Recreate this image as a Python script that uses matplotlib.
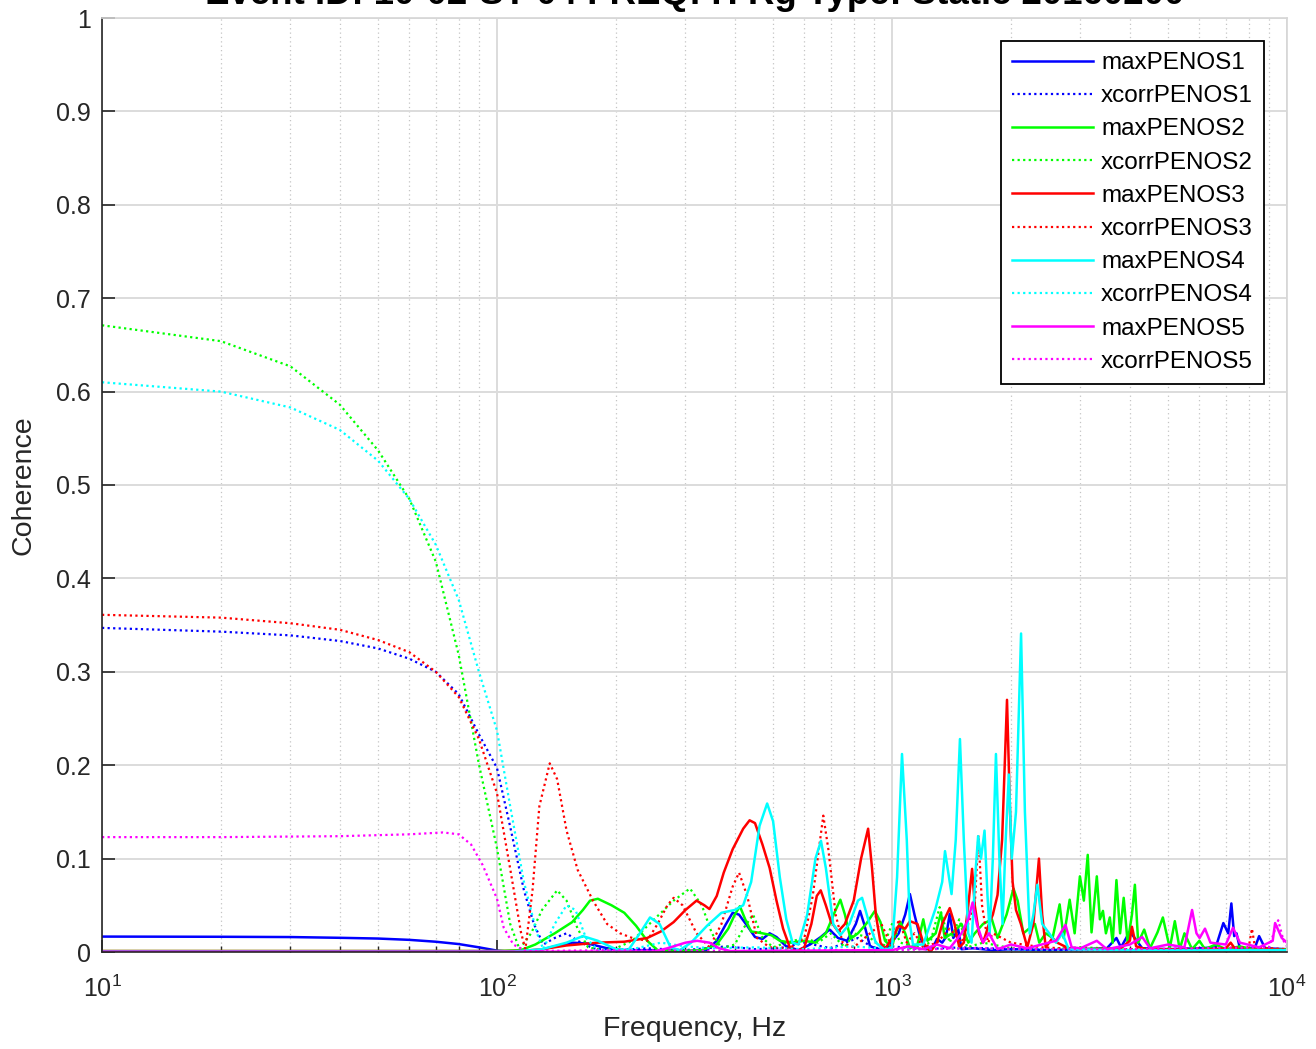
import matplotlib
matplotlib.use("Agg")
import matplotlib.pyplot as plt
from matplotlib.ticker import FixedLocator, LogLocator, NullFormatter, LogFormatterMathtext

plt.rcParams['font.family'] = ['Liberation Sans', 'DejaVu Sans']
plt.rcParams['mathtext.fontset'] = 'custom'
plt.rcParams['mathtext.rm'] = 'Liberation Sans'
plt.rcParams['mathtext.it'] = 'Liberation Sans'

title_text = "Event ID: 10-02-ST-04 FREQ: H Rg Type: Static 20160200"
x_label = "Frequency, Hz"
y_label = "Coherence"
y_ticks = [0, 0.1, 0.2, 0.3, 0.4, 0.5, 0.6, 0.7, 0.8, 0.9, 1]
y_tick_labels = ["0", "0.1", "0.2", "0.3", "0.4", "0.5", "0.6", "0.7", "0.8", "0.9", "1"]
x_ticks = [10, 100, 1000, 10000]

# ---------------- data (frequency Hz, coherence) ----------------
f_max1 = [10, 20, 30, 40, 50, 60, 70, 80, 90, 100, 110, 125, 140, 155, 170, 190, 210, 250, 300, 340,
          360, 380, 395, 410, 430, 450, 470, 490, 510, 540, 580, 620, 660, 695, 730, 770, 810, 830, 850,
          880, 930, 980, 1040, 1080, 1110, 1140, 1180, 1220, 1270, 1300, 1340, 1370, 1400, 1430, 1470,
          1500, 1600, 1800, 2000, 2500, 3000, 3500, 3700, 3800, 4000, 4300, 5000, 6000, 6600, 6900,
          7100, 7230, 7350, 7450, 7600, 7800, 8300, 8500, 8800, 10000]
v_max1 = [0.0165, 0.0163, 0.016, 0.0152, 0.0144, 0.013, 0.011, 0.0085, 0.005, 0.0015, 0.0, 0.001, 0.006,
          0.010, 0.009, 0.004, 0.002, 0.002, 0.001, 0.002, 0.012, 0.030, 0.042, 0.040, 0.028, 0.016,
          0.014, 0.020, 0.016, 0.006, 0.002, 0.008, 0.016, 0.024, 0.015, 0.012, 0.030, 0.044, 0.030,
          0.006, 0.003, 0.006, 0.020, 0.040, 0.062, 0.040, 0.015, 0.003, 0.005, 0.014, 0.010, 0.016,
          0.041, 0.015, 0.025, 0.003, 0.004, 0.002, 0.003, 0.002, 0.003, 0.004, 0.015, 0.005, 0.022,
          0.004, 0.003, 0.004, 0.005, 0.031, 0.020, 0.052, 0.017, 0.020, 0.004, 0.003, 0.005, 0.017,
          0.004, 0.003]

f_xc1 = [10, 20, 30, 40, 50, 60, 70, 80, 90, 100, 108, 117, 124, 131, 140, 150, 160, 175, 200, 240,
         300, 380, 450, 520, 600, 700, 820, 900, 1000, 1200, 1500, 2000, 3000, 5000, 7000, 10000]
v_xc1 = [0.347, 0.343, 0.339, 0.333, 0.325, 0.314, 0.300, 0.276, 0.233, 0.197, 0.134, 0.066, 0.030,
         0.008, 0.015, 0.020, 0.012, 0.004, 0.002, 0.004, 0.002, 0.006, 0.003, 0.004, 0.010, 0.004,
         0.015, 0.004, 0.006, 0.003, 0.005, 0.003, 0.002, 0.003, 0.004, 0.002]

f_max2 = [10, 50, 100, 115, 125, 140, 155, 165, 172, 180, 195, 210, 225, 240, 255, 290, 330, 360,
          385, 400, 412, 425, 440, 470, 495, 520, 555, 600, 640, 680, 720, 740, 760, 785, 820, 860,
          905, 935, 960, 1000, 1020, 1050, 1080, 1110, 1160, 1200, 1230, 1290, 1330, 1360, 1420, 1500,
          1560, 1620, 1700, 1790, 1850, 1950, 2030, 2080, 2150, 2300, 2360, 2450, 2550, 2657, 2720,
          2817, 2900, 2990, 3060, 3130, 3200, 3300, 3360, 3420, 3480, 3560, 3620, 3700, 3780, 3860,
          3950, 4050, 4120, 4200, 4350, 4500, 4700, 4850, 5050, 5200, 5350, 5500, 5750, 6000, 6200,
          6600, 7000, 7600, 8200, 9000, 10000]
v_max2 = [0.001, 0.001, 0.001, 0.002, 0.008, 0.020, 0.032, 0.045, 0.055, 0.057, 0.050, 0.042, 0.028,
          0.012, 0.002, 0.001, 0.002, 0.008, 0.025, 0.040, 0.049, 0.035, 0.022, 0.020, 0.018, 0.012,
          0.010, 0.012, 0.010, 0.020, 0.045, 0.056, 0.040, 0.014, 0.020, 0.030, 0.044, 0.032, 0.012,
          0.005, 0.020, 0.032, 0.020, 0.004, 0.008, 0.035, 0.012, 0.020, 0.042, 0.015, 0.020, 0.030,
          0.010, 0.020, 0.030, 0.035, 0.015, 0.040, 0.068, 0.055, 0.020, 0.030, 0.010, 0.020, 0.015,
          0.051, 0.015, 0.056, 0.020, 0.081, 0.055, 0.104, 0.021, 0.081, 0.035, 0.044, 0.020, 0.037,
          0.010, 0.077, 0.020, 0.058, 0.010, 0.040, 0.072, 0.010, 0.024, 0.004, 0.021, 0.037, 0.004,
          0.033, 0.003, 0.020, 0.003, 0.012, 0.003, 0.008, 0.003, 0.006, 0.003, 0.002, 0.003]

f_xc2 = [10, 20, 30, 40, 50, 60, 70, 80, 90, 100, 108, 114, 122, 130, 142, 150, 160, 170, 185, 200,
         220, 250, 280, 308, 330, 350, 370, 400, 420, 445, 470, 500, 540, 600, 650, 700, 760, 800, 880,
         950, 1000, 1050, 1150, 1250, 1320, 1400, 1480, 1550, 1700, 2000, 2500, 3000, 4000, 6000, 10000]
v_xc2 = [0.671, 0.654, 0.627, 0.586, 0.537, 0.485, 0.418, 0.318, 0.201, 0.111, 0.030, 0.003, 0.020,
         0.045, 0.066, 0.055, 0.025, 0.005, 0.002, 0.004, 0.012, 0.035, 0.055, 0.068, 0.050, 0.020,
         0.004, 0.008, 0.025, 0.040, 0.015, 0.005, 0.010, 0.015, 0.010, 0.020, 0.005, 0.020, 0.015,
         0.005, 0.030, 0.010, 0.005, 0.010, 0.048, 0.010, 0.035, 0.005, 0.010, 0.004, 0.003, 0.005,
         0.003, 0.002, 0.002]

f_max3 = [10, 50, 100, 115, 130, 150, 180, 210, 240, 260, 280, 300, 320, 335, 345, 360, 375, 395,
          420, 436, 450, 470, 490, 510, 530, 550, 570, 600, 625, 645, 660, 680, 700, 730, 760, 800,
          835, 870, 890, 910, 935, 960, 1000, 1040, 1080, 1110, 1160, 1200, 1250, 1300, 1340, 1400,
          1440, 1480, 1520, 1560, 1595, 1620, 1660, 1700, 1760, 1800, 1850, 1900, 1955, 1990, 2020,
          2060, 2120, 2200, 2280, 2355, 2400, 2450, 2550, 2620, 2800, 3200, 3800, 4000, 4050, 4150,
          4400, 5000, 6000, 7000, 7200, 7400, 8000, 9000, 10000]
v_max3 = [0.001, 0.001, 0.001, 0.001, 0.003, 0.007, 0.010, 0.011, 0.015, 0.022, 0.032, 0.045, 0.055,
          0.050, 0.046, 0.060, 0.085, 0.110, 0.132, 0.141, 0.138, 0.115, 0.090, 0.055, 0.025, 0.006,
          0.000, 0.005, 0.030, 0.060, 0.066, 0.050, 0.033, 0.022, 0.030, 0.055, 0.100, 0.132, 0.090,
          0.040, 0.010, 0.003, 0.015, 0.028, 0.025, 0.033, 0.030, 0.010, 0.000, 0.010, 0.030, 0.047,
          0.030, 0.005, 0.010, 0.050, 0.089, 0.050, 0.020, 0.010, 0.030, 0.040, 0.061, 0.120, 0.270,
          0.150, 0.075, 0.045, 0.030, 0.005, 0.030, 0.100, 0.040, 0.005, 0.015, 0.010, 0.004, 0.003,
          0.004, 0.012, 0.027, 0.006, 0.003, 0.003, 0.002, 0.004, 0.010, 0.003, 0.002, 0.003, 0.002]

f_xc3 = [10, 20, 30, 40, 50, 60, 70, 80, 90, 100, 108, 115, 118, 123, 128, 136, 142, 150, 160, 175,
         190, 205, 220, 240, 255, 270, 280, 295, 320, 345, 370, 395, 410, 430, 455, 490, 550, 600, 630,
         660, 670, 690, 720, 750, 800, 880, 940, 1000, 1040, 1090, 1140, 1200, 1300, 1400, 1500, 1620,
         1655, 1690, 1750, 1800, 2000, 2400, 3000, 5000, 8000, 8150, 8300, 10000]
v_xc3 = [0.361, 0.358, 0.352, 0.345, 0.334, 0.321, 0.300, 0.273, 0.228, 0.170, 0.089, 0.021, 0.003,
         0.066, 0.156, 0.202, 0.185, 0.130, 0.088, 0.055, 0.030, 0.020, 0.015, 0.012, 0.030, 0.050,
         0.058, 0.050, 0.020, 0.005, 0.030, 0.070, 0.085, 0.060, 0.015, 0.005, 0.004, 0.015, 0.060,
         0.125, 0.146, 0.110, 0.040, 0.010, 0.005, 0.020, 0.030, 0.005, 0.035, 0.010, 0.020, 0.005,
         0.010, 0.025, 0.010, 0.050, 0.125, 0.050, 0.010, 0.020, 0.010, 0.005, 0.003, 0.003, 0.005,
         0.025, 0.005, 0.003]

f_max4 = [10, 50, 110, 130, 150, 165, 180, 200, 215, 230, 244, 258, 275, 290, 310, 340, 370, 400,
          420, 440, 462, 483, 500, 520, 540, 560, 580, 610, 640, 661, 680, 710, 740, 780, 820, 840,
          870, 910, 960, 1000, 1030, 1060, 1090, 1110, 1130, 1200, 1250, 1290, 1340, 1362, 1415, 1450,
          1486, 1520, 1560, 1590, 1630, 1652, 1680, 1715, 1745, 1767, 1800, 1833, 1870, 1905, 1940,
          1976, 2010, 2060, 2122, 2170, 2231, 2280, 2333, 2400, 2500, 2600, 2700, 2800, 4000, 10000]
v_max4 = [0.0005, 0.0005, 0.0005, 0.003, 0.010, 0.017, 0.012, 0.003, 0.002, 0.020, 0.037, 0.030,
          0.005, 0.002, 0.010, 0.028, 0.042, 0.045, 0.050, 0.075, 0.135, 0.159, 0.140, 0.080, 0.035,
          0.010, 0.008, 0.040, 0.100, 0.119, 0.090, 0.030, 0.018, 0.030, 0.055, 0.058, 0.035, 0.010,
          0.002, 0.005, 0.080, 0.212, 0.120, 0.030, 0.008, 0.008, 0.030, 0.047, 0.075, 0.108, 0.062,
          0.120, 0.228, 0.120, 0.020, 0.010, 0.090, 0.124, 0.100, 0.130, 0.060, 0.020, 0.100, 0.212,
          0.100, 0.030, 0.120, 0.190, 0.100, 0.150, 0.341, 0.150, 0.020, 0.040, 0.072, 0.030, 0.020,
          0.010, 0.020, 0.003, 0.002, 0.002]

f_xc4 = [10, 20, 30, 40, 50, 60, 70, 80, 90, 100, 108, 117, 126, 131, 140, 150, 158, 168, 180, 220,
         260, 300, 350, 450, 600, 800, 1000, 1500, 2000, 3000, 5000, 10000]
v_xc4 = [0.610, 0.600, 0.583, 0.559, 0.526, 0.485, 0.436, 0.377, 0.300, 0.237, 0.156, 0.075, 0.021,
         0.003, 0.030, 0.050, 0.045, 0.015, 0.002, 0.003, 0.010, 0.006, 0.004, 0.005, 0.003, 0.006,
         0.003, 0.004, 0.003, 0.002, 0.002, 0.002]

f_max5 = [10, 100, 250, 270, 300, 321, 345, 365, 390, 1000, 1100, 1200, 1300, 1400, 1500, 1560, 1600,
          1640, 1700, 1760, 1850, 2000, 2200, 2600, 2750, 2850, 3000, 3300, 3500, 4000, 4300, 4500,
          5000, 5500, 5750, 5900, 6009, 6200, 6400, 7000, 7300, 7600, 8500, 9200, 9330, 9700, 10000]
v_max5 = [0.0003, 0.0003, 0.0005, 0.004, 0.010, 0.012, 0.010, 0.004, 0.001, 0.002, 0.006, 0.003,
          0.008, 0.004, 0.020, 0.035, 0.053, 0.030, 0.010, 0.020, 0.003, 0.008, 0.004, 0.012, 0.029,
          0.005, 0.004, 0.012, 0.003, 0.008, 0.016, 0.004, 0.008, 0.005, 0.045, 0.020, 0.015, 0.025,
          0.010, 0.008, 0.026, 0.010, 0.005, 0.012, 0.031, 0.015, 0.010]

f_xc5 = [10, 20, 40, 60, 73, 80, 86, 92, 100, 104, 110, 118, 200, 400, 700, 1000, 1600, 2500, 4000,
         6000, 9000, 9500, 9800, 10000]
v_xc5 = [0.123, 0.123, 0.124, 0.126, 0.128, 0.126, 0.115, 0.093, 0.057, 0.026, 0.008, 0.001, 0.002,
         0.001, 0.002, 0.002, 0.004, 0.003, 0.003, 0.004, 0.005, 0.034, 0.012, 0.006]

series = [
    ("maxPENOS1", f_max1, v_max1, (0, 0, 1), "-"),
    ("xcorrPENOS1", f_xc1, v_xc1, (0, 0, 1), ":"),
    ("maxPENOS2", f_max2, v_max2, (0, 1, 0), "-"),
    ("xcorrPENOS2", f_xc2, v_xc2, (0, 1, 0), ":"),
    ("maxPENOS3", f_max3, v_max3, (1, 0, 0), "-"),
    ("xcorrPENOS3", f_xc3, v_xc3, (1, 0, 0), ":"),
    ("maxPENOS4", f_max4, v_max4, (0, 1, 1), "-"),
    ("xcorrPENOS4", f_xc4, v_xc4, (0, 1, 1), ":"),
    ("maxPENOS5", f_max5, v_max5, (1, 0, 1), "-"),
    ("xcorrPENOS5", f_xc5, v_xc5, (1, 0, 1), ":"),
]

# ---------------- figure ----------------
W, H = 1316, 1049
fig = plt.figure(figsize=(W / 100, H / 100), dpi=100)
ax = fig.add_axes([102 / W, 1 - 952 / H, (1287 - 102) / W, (952 - 18) / H])

for name, f, v, c, ls in series:
    if ls == ":":
        ax.plot(f, v, color=c, lw=1.6, linestyle=(0, (1, 1.5)), label=name)
    else:
        ax.plot(f, v, color=c, lw=1.8, linestyle="-", label=name)

ax.set_xscale("log")
ax.set_xlim(10, 10000)
ax.set_ylim(0, 1)
ax.xaxis.set_major_locator(FixedLocator(x_ticks))
ax.xaxis.set_major_formatter(LogFormatterMathtext())
ax.xaxis.set_minor_locator(LogLocator(base=10, subs=range(2, 10)))
ax.xaxis.set_minor_formatter(NullFormatter())
ax.set_yticks(y_ticks)
ax.set_yticklabels(y_tick_labels)

ax.grid(True, which="major", color="#dcdcdc", lw=1.4, linestyle="-")
ax.grid(True, which="minor", axis="x", color="#c4c4c4", lw=0.9, linestyle=(0, (1, 2.5)))
ax.set_axisbelow(True)

for s in ["left", "bottom"]:
    ax.spines[s].set_color("#262626")
    ax.spines[s].set_linewidth(1.2)
for s in ["top", "right"]:
    ax.spines[s].set_color("#d6d6d6")
    ax.spines[s].set_linewidth(1.2)

ax.tick_params(which="major", direction="in", length=9, width=1.2, color="#262626",
               labelsize=18, labelcolor="#262626", pad=8, top=False, right=False)
ax.tick_params(axis="x", which="major", pad=17)
ax.tick_params(which="minor", direction="in", length=4.5, width=1.0, color="#262626",
               top=False, right=False)

ax.set_xlabel(x_label, fontsize=20.5, color="#262626", labelpad=10)
ax.set_ylabel(y_label, fontsize=20.5, color="#262626", labelpad=14)

leg = ax.legend(loc="upper right", fontsize=17.5, frameon=True, fancybox=False, framealpha=1,
                edgecolor="#000000", handlelength=3.3, handletextpad=0.35, labelspacing=0.46,
                borderpad=0.45, borderaxespad=0.95)
leg.get_frame().set_linewidth(1.3)

fig.text(695 / W, 1 - 4.5 / H, title_text, ha="center", va="baseline", fontsize=26.4,
         fontweight="bold", color="#000000")

fig.savefig("out.png", dpi=100)
